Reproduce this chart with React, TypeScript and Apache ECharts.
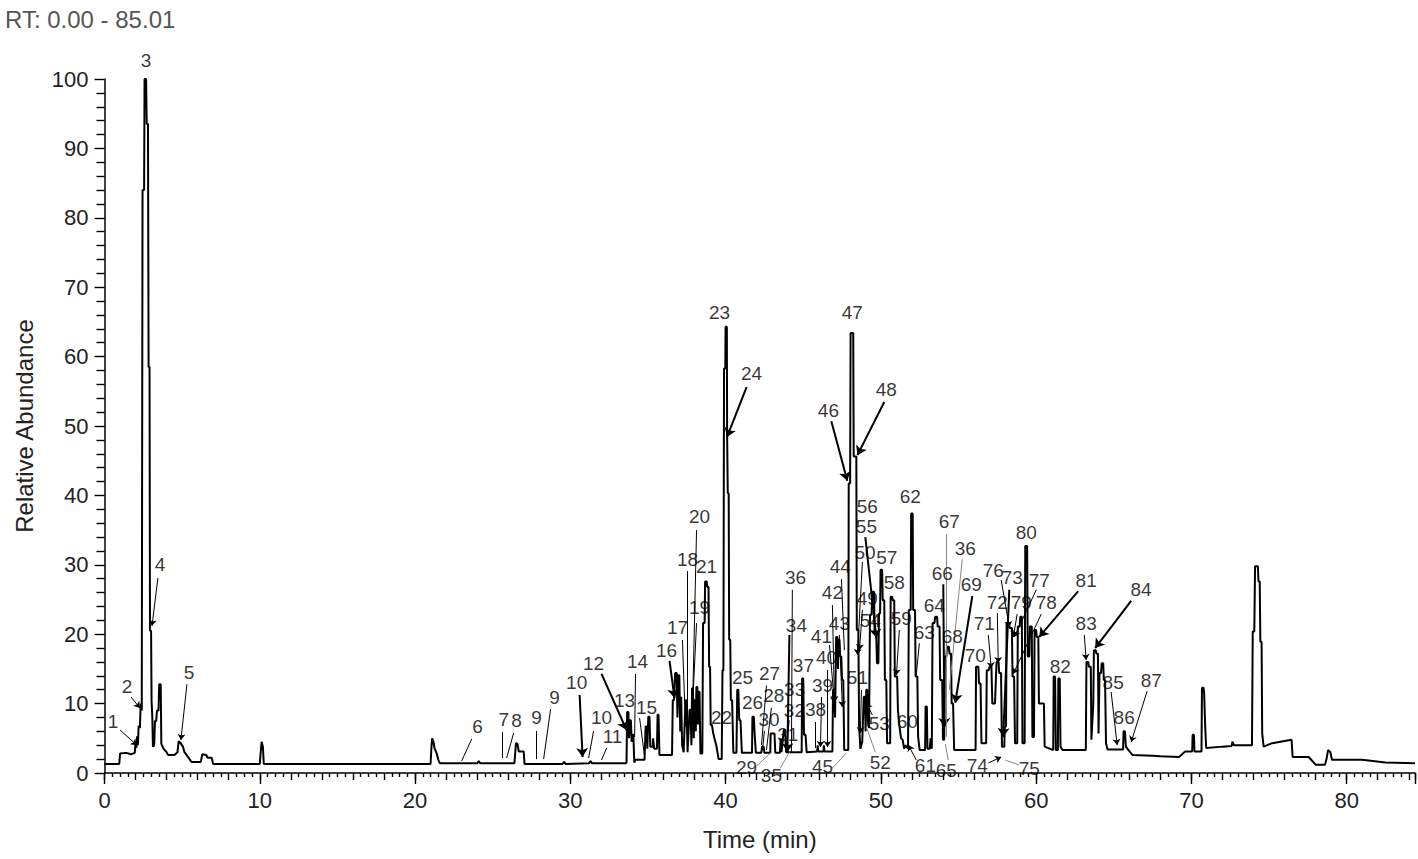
import React, { useEffect, useRef } from "react";
import * as echarts from "echarts";

const FONT = "'Liberation Sans', Arial, sans-serif";
const titleText = "RT: 0.00 - 85.01";
const xAxisName = "Time (min)";
const yAxisName = "Relative Abundance";
const xMax = 84.4;

// chromatogram trace, [time (min), relative abundance]
const trace0to10: [number, number][] = [
  [0, 1.3], [0.95, 1.3], [1.0, 2.8], [1.4, 2.9], [1.7, 2.7], [1.95, 2.9], [2.0, 4.5], [2.05, 3.6],
  [2.1, 5.3], [2.15, 4.0], [2.2, 6.8], [2.28, 6.5], [2.33, 10.0], [2.4, 9.0], [2.45, 84.0], [2.55, 84.0],
  [2.58, 100], [2.68, 100], [2.72, 93.5], [2.8, 93.5], [2.84, 58.5], [2.9, 58.5], [2.93, 20.5], [3.0, 20.5],
  [3.03, 10.5], [3.08, 8.0], [3.12, 3.8], [3.2, 4.0], [3.25, 7.5], [3.33, 7.5], [3.38, 9.0], [3.48, 9.0],
  [3.52, 12.8], [3.62, 12.8], [3.66, 4.2], [3.8, 3.5], [4.0, 3.0], [4.1, 2.6], [4.5, 2.6], [4.7, 3.0],
  [4.78, 4.6], [4.9, 4.3], [5.05, 3.8], [5.15, 3.0], [5.35, 2.4], [5.6, 1.6], [6.2, 1.6], [6.3, 2.7],
  [6.55, 2.6], [6.65, 2.2], [6.9, 2.2], [7.0, 1.3], [10.0, 1.3], [10.06, 3.0], [10.12, 4.5], [10.2, 3.8],
  [10.26, 1.3],
];
const trace10to33: [number, number][] = [
  [15.0, 1.3], [21.0, 1.3], [21.05, 3.5], [21.1, 5.0], [21.18, 4.6], [21.25, 3.6], [21.38, 2.9],
  [21.5, 1.9], [21.6, 1.4], [24.0, 1.4], [24.1, 1.7], [24.2, 1.4], [26.4, 1.4], [26.5, 4.3], [26.6, 4.2],
  [26.68, 3.1], [27.0, 3.1], [27.05, 1.3], [29.5, 1.3], [29.6, 1.6], [29.7, 1.3], [31.2, 1.4],
  [31.3, 1.7], [31.4, 1.4], [33.55, 1.4],
];
const trace33to41: [number, number][] = [
  [33.62, 1.5], [33.66, 8.8], [33.74, 8.8], [33.78, 5.0], [33.84, 7.6], [33.9, 7.6], [33.95, 4.5],
  [34.0, 5.5], [34.06, 5.5], [34.12, 1.5], [34.2, 1.9], [34.78, 1.9], [34.85, 6.7], [34.92, 6.7],
  [34.96, 3.5], [35.02, 8.1], [35.1, 8.1], [35.15, 3.8], [35.3, 3.8], [35.33, 5.0], [35.4, 3.5],
  [35.58, 3.5], [35.62, 8.4], [35.68, 8.4], [35.74, 2.6], [36.55, 2.6], [36.6, 10.5], [36.68, 10.5],
  [36.75, 14.4], [36.85, 14.4], [36.9, 8.0], [36.96, 14.1], [37.02, 14.1], [37.08, 6.0], [37.14, 11.0],
  [37.2, 4.0], [37.3, 3.0], [37.42, 10.5], [37.48, 10.5], [37.55, 3.0], [37.68, 9.1], [37.74, 9.1],
  [37.8, 4.0], [37.84, 12.2], [37.9, 12.2], [37.95, 5.0], [37.98, 10.5], [38.03, 10.5], [38.08, 6.0],
  [38.12, 12.4], [38.18, 12.4], [38.22, 7.0], [38.26, 11.7], [38.32, 11.7], [38.38, 2.8], [38.5, 2.8],
  [38.55, 21.6], [38.65, 21.6], [38.68, 27.6], [38.78, 27.6], [38.82, 26.8], [38.9, 26.8], [38.94, 15.3],
  [39.0, 15.3], [39.04, 6.9], [39.12, 6.9], [39.2, 5.8], [39.28, 5.0], [39.4, 4.0], [39.55, 2.0],
  [39.75, 2.0], [39.8, 14.8], [39.86, 14.8], [39.9, 58.3], [39.98, 58.3], [40.0, 64.3], [40.08, 64.3],
  [40.1, 48.5], [40.14, 40.3], [40.2, 40.3], [40.23, 19.2], [40.3, 19.2], [40.34, 10.5], [40.42, 10.5],
  [40.5, 2.9], [40.7, 2.9], [40.75, 12.0], [40.82, 12.0], [40.88, 7.6], [40.96, 7.6], [41.05, 2.9],
];
const trace41to48: [number, number][] = [
  [41.7, 2.9], [41.73, 8.1], [41.82, 8.1], [41.86, 6.0], [41.95, 2.9], [42.3, 2.9], [42.35, 3.8],
  [42.45, 3.8], [42.5, 2.9], [42.88, 2.9], [42.9, 5.7], [43.15, 5.7], [43.2, 2.9], [43.5, 2.9],
  [43.55, 5.0], [43.6, 3.0], [43.75, 6.2], [43.83, 6.2], [43.9, 3.0], [44.9, 3.0], [44.93, 13.6],
  [45.0, 13.6], [45.05, 5.5], [45.15, 5.5], [45.22, 3.0], [45.9, 3.1], [45.93, 4.0], [45.97, 3.1],
  [46.3, 3.1], [46.33, 4.0], [46.37, 3.1], [46.88, 3.1], [46.92, 12.0], [47.0, 12.0], [47.05, 8.0],
  [47.12, 19.6], [47.2, 19.6], [47.24, 15.0], [47.27, 19.2], [47.33, 19.2], [47.37, 16.8], [47.45, 16.8],
  [47.5, 13.4], [47.58, 13.4], [47.64, 3.3], [47.9, 3.3],
];
const trace48to55: [number, number][] = [
  [47.93, 41.7], [48.02, 41.7], [48.05, 63.4], [48.22, 63.4], [48.25, 45.6], [48.42, 45.6], [48.45, 20.6],
  [48.55, 20.6], [48.6, 6.7], [48.68, 3.5], [48.8, 4.5], [48.9, 11.0], [48.97, 11.0], [49.02, 6.0],
  [49.06, 12.0], [49.12, 12.0], [49.18, 7.0], [49.24, 6.5], [49.3, 22.8], [49.4, 22.8], [49.45, 26.1],
  [49.56, 26.1], [49.6, 20.1], [49.7, 20.1], [49.75, 15.8], [49.84, 15.8], [49.88, 23.0], [49.95, 23.0],
  [49.98, 29.3], [50.08, 29.3], [50.12, 24.9], [50.22, 24.9], [50.26, 13.4], [50.35, 13.4], [50.4, 4.3],
  [50.6, 4.3], [50.63, 25.4], [50.72, 25.4], [50.76, 24.9], [50.86, 24.9], [50.9, 13.9], [51.05, 13.9],
  [51.1, 9.0], [51.2, 6.7], [51.3, 5.0], [51.4, 4.8], [51.5, 3.5], [51.6, 4.0], [51.75, 3.5],
  [51.8, 23.5], [51.92, 23.5], [51.95, 37.4], [52.05, 37.4], [52.08, 23.5], [52.2, 23.5], [52.24, 13.9],
  [52.35, 13.9], [52.4, 5.2], [52.5, 3.3], [52.85, 3.3], [52.88, 9.6], [52.96, 9.6], [53.0, 3.5],
  [53.15, 3.5], [53.2, 5.0], [53.28, 3.5], [53.33, 21.6], [53.45, 21.6], [53.5, 22.5], [53.62, 22.5],
  [53.66, 21.1], [53.78, 21.1], [53.82, 13.4], [53.95, 13.4], [54.0, 4.8], [54.08, 4.8], [54.12, 16.8],
  [54.22, 16.8], [54.26, 18.2], [54.38, 18.2], [54.42, 17.2], [54.52, 17.2], [54.56, 10.0], [54.65, 10.0],
  [54.72, 3.3],
];
const trace55to63: [number, number][] = [
  [56.1, 3.3], [56.13, 15.3], [56.28, 15.3], [56.32, 12.9], [56.42, 12.9], [56.48, 4.3], [56.78, 4.3],
  [56.82, 14.8], [56.95, 14.8], [57.0, 15.3], [57.12, 15.3], [57.18, 10.0], [57.35, 10.0], [57.45, 16.0],
  [57.58, 16.0], [57.62, 14.4], [57.74, 14.4], [57.8, 3.8], [57.95, 3.8], [57.98, 6.7], [58.06, 6.7],
  [58.1, 21.6], [58.25, 21.6], [58.3, 20.9], [58.44, 20.9], [58.48, 13.9], [58.58, 13.9], [58.64, 4.3],
  [58.78, 4.3], [58.82, 21.1], [58.94, 21.1], [58.98, 22.5], [59.08, 22.5], [59.12, 4.3], [59.26, 4.3],
  [59.3, 32.7], [59.42, 32.7], [59.46, 16.8], [59.56, 16.8], [59.6, 21.1], [59.72, 21.1], [59.76, 5.2],
  [59.86, 5.2], [59.9, 20.6], [60.0, 20.6], [60.04, 19.6], [60.14, 19.6], [60.18, 10.0], [60.5, 10.0],
  [60.55, 3.8], [61.1, 3.3], [61.13, 13.9], [61.22, 13.9], [61.27, 3.3], [61.4, 3.3], [61.43, 13.6],
  [61.52, 13.6], [61.57, 3.8], [61.7, 3.3], [63.2, 3.3],
];
const trace63to85: [number, number][] = [
  [63.24, 16.0], [63.36, 16.0], [63.4, 15.3], [63.52, 15.3], [63.56, 4.8], [63.68, 10.0], [63.72, 17.7],
  [63.84, 17.7], [63.88, 17.2], [63.98, 17.2], [64.02, 5.7], [64.08, 14.4], [64.18, 14.4], [64.22, 15.8],
  [64.32, 15.8], [64.36, 13.4], [64.44, 13.4], [64.5, 4.3], [64.6, 3.4], [65.6, 3.4], [65.63, 6.0],
  [65.72, 6.0], [65.78, 3.8], [65.95, 3.3], [66.2, 2.6], [67.5, 2.5], [68.0, 2.4], [69.2, 2.3],
  [69.6, 3.1], [70.05, 3.1], [70.08, 5.5], [70.16, 5.5], [70.2, 3.1], [70.65, 3.1], [70.68, 12.3],
  [70.78, 12.3], [70.82, 11.5], [70.88, 7.2], [70.95, 3.6], [72.0, 3.8], [72.6, 3.9], [72.64, 4.5],
  [72.75, 4.0], [73.9, 4.0], [73.95, 20.4], [74.05, 20.4], [74.1, 29.8], [74.28, 29.8], [74.32, 27.6],
  [74.4, 27.6], [74.44, 18.9], [74.52, 18.9], [74.56, 5.7], [74.65, 3.8], [75.2, 4.3], [76.45, 4.8],
  [76.52, 2.3], [77.55, 2.3], [78.0, 1.2], [78.6, 1.2], [78.7, 2.0], [78.8, 3.3], [78.95, 3.0],
  [79.05, 1.9], [81.0, 1.9], [82.5, 1.5], [84.4, 1.4],
];

// peak labels: [text, time, abundance]
const peakLabels: [string, number, number][] = [
  ["1", 0.55, 7.35], ["2", 1.45, 12.5], ["3", 2.67, 102.7], ["4", 3.57, 30.0], ["5", 5.44, 14.55],
  ["6", 24.03, 6.63], ["7", 25.71, 7.64], ["8", 26.54, 7.5], ["9", 27.83, 7.93], ["9", 28.99, 10.95],
  ["10", 30.41, 13.1], ["10", 32.01, 7.93], ["11", 32.72, 5.33], ["12", 31.5, 15.85], ["13", 33.49, 10.5],
  ["14", 34.33, 16.0], ["15", 34.91, 9.37], ["16", 36.2, 17.72], ["17", 36.91, 20.9], ["18", 37.55, 30.7],
  ["19", 38.32, 23.78], ["20", 38.32, 36.9], ["21", 38.77, 29.7], ["22", 39.74, 7.93], ["23", 39.61, 66.4],
  ["24", 41.67, 57.6], ["25", 41.09, 13.7], ["26", 41.73, 10.1], ["27", 42.83, 14.4], ["28", 43.1, 11.1],
  ["29", 41.35, 0.86], ["30", 42.8, 7.64], ["31", 44.0, 5.6], ["32", 44.43, 9.0], ["33", 44.45, 11.96],
  ["34", 44.56, 21.3], ["35", 42.95, -0.29], ["36", 44.5, 28.1], ["37", 45.01, 15.56], ["38", 45.79, 9.08],
  ["39", 46.24, 12.68], ["40", 46.5, 16.7], ["41", 46.17, 19.6], ["42", 46.88, 25.94], ["43", 47.33, 21.6],
  ["44", 47.39, 29.7], ["45", 46.24, 1.0], ["46", 46.62, 52.3], ["47", 48.16, 66.3], ["48", 50.35, 55.2],
  ["49", 49.13, 25.2], ["50", 48.98, 31.8], ["51", 48.49, 13.7], ["52", 49.96, 1.58], ["53", 49.9, 7.2],
  ["54", 49.32, 22.0], ["55", 49.07, 35.5], ["56", 49.13, 38.4], ["57", 50.38, 31.1], ["58", 50.86, 27.4],
  ["59", 51.32, 22.3], ["60", 51.7, 7.35], ["61", 52.87, 1.15], ["62", 51.9, 39.8], ["63", 52.8, 20.3],
  ["64", 53.44, 24.2], ["65", 54.21, 0.43], ["66", 53.96, 28.8], ["67", 54.41, 36.2], ["36", 55.44, 32.4],
  ["68", 54.6, 19.6], ["69", 55.82, 27.1], ["70", 56.08, 16.86], ["71", 56.66, 21.6], ["72", 57.5, 24.6],
  ["73", 58.46, 28.1], ["74", 56.21, 1.15], ["75", 59.56, 0.72], ["76", 57.24, 29.25], ["77", 60.2, 27.8],
  ["78", 60.65, 24.5], ["79", 59.04, 24.5], ["80", 59.36, 34.7], ["81", 63.22, 27.8], ["82", 61.55, 15.3],
  ["83", 63.22, 21.6], ["84", 66.76, 26.4], ["85", 64.96, 13.1], ["86", 65.67, 7.93], ["87", 67.41, 13.4],
];

type Seg = [[number, number], [number, number]];
const boldArrows: Seg[] = [
  [[30.6, 11.24], [30.79, 2.3]], [[32.01, 14.27], [33.62, 6.2]], [[36.39, 16.14], [36.71, 10.8]],
  [[41.35, 55.6], [40.09, 48.4]], [[44.11, 19.9], [43.98, 3.0]], [[46.81, 50.7], [47.84, 42.1]],
  [[50.22, 53.46], [48.49, 45.8]], [[49.0, 34.0], [49.71, 19.45]], [[54.02, 27.2], [54.09, 6.63]],
  [[55.89, 25.5], [54.79, 10.1]], [[58.27, 26.4], [57.88, 5.2]], [[62.71, 26.2], [60.2, 19.6]],
  [[66.12, 24.8], [63.8, 18.0]],
];
const thinArrows: Seg[] = [
  [[1.0, 6.2], [2.09, 4.0]], [[1.71, 10.95], [2.28, 9.37]], [[3.44, 28.1], [3.06, 21.2]],
  [[5.31, 12.8], [4.92, 4.75]], [[46.18, 10.95], [46.11, 3.75]], [[46.56, 14.84], [46.56, 3.75]],
  [[46.69, 18.44], [47.01, 10.1]], [[46.88, 24.2], [47.01, 10.23]], [[47.33, 19.9], [47.52, 9.5]],
  [[48.81, 23.5], [48.62, 17.7]], [[48.81, 30.4], [48.49, 17.0]], [[48.75, 11.96], [48.68, 5.76]],
  [[49.45, 8.36], [49.07, 10.1]], [[51.19, 20.6], [51.0, 14.1]], [[52.28, 1.87], [51.77, 4.03]],
  [[56.92, 19.9], [57.11, 15.1]], [[57.5, 23.05], [57.56, 15.85]], [[56.92, 1.44], [57.75, 2.3]],
  [[57.75, 27.8], [58.27, 21.0]], [[60.01, 26.4], [58.59, 19.6]], [[60.33, 22.9], [58.53, 14.3]],
  [[58.78, 22.9], [58.53, 19.6]], [[63.1, 19.9], [63.22, 16.3]], [[64.83, 11.67], [65.22, 4.03]],
  [[67.15, 11.8], [66.12, 4.47]],
];
const plainLines: Seg[] = [
  [[23.65, 4.9], [23.0, 1.73]], [[25.64, 5.9], [25.64, 2.16]], [[26.35, 5.76], [25.9, 2.16]],
  [[27.83, 6.05], [27.83, 2.0]], [[28.73, 9.2], [28.28, 2.0]], [[31.5, 6.05], [31.18, 2.16]],
  [[32.34, 3.6], [32.01, 1.87]], [[34.2, 14.27], [34.14, 5.19]], [[34.46, 7.93], [34.78, 2.45]],
  [[37.22, 19.16], [37.42, 6.63]], [[37.55, 29.1], [37.55, 7.06]], [[38.13, 21.6], [37.87, 9.5]],
  [[38.13, 35.0], [37.87, 9.37]], [[42.63, 12.6], [42.31, 4.03]], [[42.95, 9.4], [42.63, 3.3]],
  [[42.5, 6.05], [42.38, 3.3]], [[44.1, 7.6], [43.9, 3.3]], [[44.3, 26.4], [44.24, 3.0]],
  [[45.79, 7.35], [45.79, 3.6]], [[47.46, 27.95], [47.65, 17.7]], [[52.48, 18.7], [52.28, 14.1]],
];
const greyLines: Seg[] = [
  [[42.0, 1.0], [42.95, 3.0]], [[43.53, 0.72], [44.11, 3.0]], [[46.88, 0.72], [47.78, 2.88]],
  [[49.64, 3.0], [49.07, 6.63]], [[54.34, 1.87], [54.15, 4.18]], [[54.21, 34.4], [54.21, 5.2]],
  [[55.24, 30.8], [54.41, 12.0]], [[58.91, 1.15], [58.01, 1.87]],
];

const trace = [
  ...trace0to10, ...trace10to33, ...trace33to41, ...trace41to48,
  ...trace48to55, ...trace55to63, ...trace63to85,
];

function linesSeries(segs: Seg[], color: string, width: number, arrow: number) {
  return {
    type: "lines",
    coordinateSystem: "cartesian2d",
    xAxisIndex: 0,
    yAxisIndex: 0,
    silent: true,
    symbol: arrow > 0 ? ["none", "arrow"] : ["none", "none"],
    symbolSize: arrow > 0 ? arrow : 1,
    lineStyle: { color, width, opacity: 1, curveness: 0 },
    itemStyle: { color },
    data: segs.map((c) => ({ coords: c })),
    z: 3,
  };
}

export default function App() {
  const ref = useRef<HTMLDivElement>(null);
  useEffect(() => {
    if (!ref.current) return;
    const chart = echarts.init(ref.current, null, { renderer: "svg" });
    const tickStyle = { color: "#000", width: 1.4 };
    chart.setOption({
      animation: false,
      backgroundColor: "#fff",
      title: {
        text: titleText,
        left: 0,
        top: 2,
        textStyle: { fontFamily: FONT, fontSize: 24, fontWeight: "normal", color: "#555" },
      },
      grid: { left: 104.5, right: 2, top: 79, bottom: 86, containLabel: false },
      xAxis: [
        {
          type: "value",
          min: 0,
          max: xMax,
          interval: 2,
          position: "bottom",
          axisLine: { show: true, onZero: false, lineStyle: { color: "#000", width: 1.5 } },
          axisTick: { show: true, length: 7, lineStyle: tickStyle },
          minorTick: { show: true, splitNumber: 4, length: 4, lineStyle: tickStyle },
          axisLabel: { show: false },
          splitLine: { show: false },
          name: xAxisName,
          nameLocation: "middle",
          nameGap: 54,
          nameTextStyle: { fontFamily: FONT, fontSize: 24, color: "#222" },
        },
        {
          type: "value",
          min: 0,
          max: xMax,
          interval: 10,
          position: "bottom",
          offset: 0,
          axisLine: { show: false, onZero: false },
          axisTick: { show: true, length: 11, lineStyle: tickStyle },
          axisLabel: {
            show: true,
            margin: 16,
            fontFamily: FONT,
            fontSize: 22,
            color: "#222",
            formatter: (v: number) => (Math.abs(v % 10) < 1e-6 ? String(v) : ""),
          },
          splitLine: { show: false },
        },
      ],
      yAxis: {
        type: "value",
        min: 0,
        max: 100,
        interval: 10,
        axisLine: { show: true, lineStyle: { color: "#000", width: 1.5 } },
        axisTick: { show: true, length: 10, lineStyle: tickStyle },
        minorTick: { show: true, splitNumber: 5, length: 8, lineStyle: tickStyle },
        axisLabel: { margin: 16, fontFamily: FONT, fontSize: 22, color: "#222" },
        splitLine: { show: false },
        name: yAxisName,
        nameLocation: "middle",
        nameGap: 68,
        nameTextStyle: { fontFamily: FONT, fontSize: 24, color: "#222" },
      },
      series: [
        {
          type: "line",
          xAxisIndex: 0,
          yAxisIndex: 0,
          data: trace,
          showSymbol: false,
          symbol: "none",
          clip: false,
          lineStyle: { color: "#000", width: 2 },
          z: 2,
        },
        linesSeries(boldArrows, "#000", 2, 9),
        linesSeries(thinArrows, "#000", 1, 6),
        linesSeries(plainLines, "#000", 1, 0),
        linesSeries(greyLines, "#888", 1, 0),
        {
          type: "scatter",
          xAxisIndex: 0,
          yAxisIndex: 0,
          symbolSize: 0,
          clip: false,
          silent: true,
          itemStyle: { color: "transparent" },
          data: peakLabels.map(([n, t, v]) => ({ name: n, value: [t, v] })),
          label: {
            show: true,
            position: "inside",
            formatter: "{b}",
            fontFamily: FONT,
            fontSize: 19,
            lineHeight: 16,
            color: "#000",
            textBorderWidth: 0,
          },
          labelLayout: { hideOverlap: false },
          z: 4,
        },
      ],
    });
    return () => chart.dispose();
  }, []);
  return (
    <div
      ref={ref}
      style={{ position: "fixed", left: 0, top: 0, width: 1418, height: 859, background: "#fff" }}
    />
  );
}
